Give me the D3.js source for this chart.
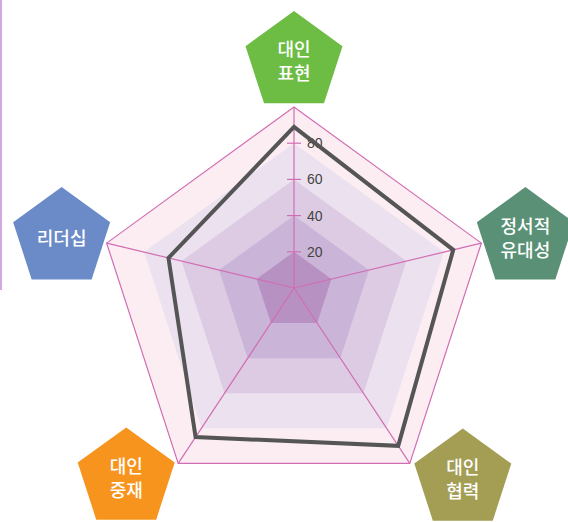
<!DOCTYPE html>
<html>
<head>
<meta charset="utf-8">
<script src="https://d3js.org/d3.v7.min.js"></script>
<style>
  html, body { margin: 0; padding: 0; background: #fff; }
  svg { display: block; }
</style>
</head>
<body>
<svg id="chart" width="568" height="522"></svg>
<script>
(function() {

  // data
  var axes = [["대인", "표현"], ["정서적", "유대성"], ["대인", "협력"], ["대인", "중재"], ["리더십"]];
  var scores = [89, 85, 90, 85, 67];
  var levels = [100, 80, 60, 40, 20];
  var ticks = [20, 40, 60, 80];
  var axisColors = ["#6dbd45", "#5a9176", "#a49e55", "#f7941e", "#6b8bc8"];

  var levelColors = {100 : "#fcedf3", 80 : "#ece2ef", 60 : "#ddcae3", 40 : "#cab5d8", 20 : "#b891c3"};
  // label offsets from the outer vertex (layout only)
  var labelOffsets = [[0, -45], [44, -5], [53, 16], [-52, 15], [-45, -5]];

  var origin = {x : 294, y : 288};     // where spokes meet (value 0)
  var outer = {x : 294, y : 304, r : 197};  // outer pentagon
  var PINK = "#d16db3";

  var svg = d3.select("#chart");

  var angle = d3.scaleLinear().domain([0, axes.length]).range([0, 2 * Math.PI]);
  var frac = d3.scaleLinear().domain([0, 100]).range([0, 1]);

  function vertex(i) {
    var a = angle(i);
    return [outer.x + outer.r * Math.sin(a), outer.y - outer.r * Math.cos(a)];
  }

  function point(i, v) {
    var p = vertex(i);
    var t = frac(v);
    return [origin.x + t * (p[0] - origin.x), origin.y + t * (p[1] - origin.y)];
  }

  var line = d3.line().curve(d3.curveLinearClosed);

  // stray border on the left edge
  svg.append("line")
    .attr("x1", 1).attr("x2", 1)
    .attr("y1", 0).attr("y2", 290)
    .attr("stroke", "#c58bd6")
    .attr("stroke-width", 1.5);

  // level bands
  svg.append("g").selectAll("path.level")
    .data(levels)
    .enter().append("path")
    .attr("class", "level")
    .attr("d", lv => line(axes.map((a, i) => point(i, lv))))
    .attr("fill", lv => levelColors[lv])
    .attr("stroke", "none");

  // outer border
  svg.append("path")
    .attr("d", line(axes.map((a, i) => point(i, 100))))
    .attr("fill", "none")
    .attr("stroke", PINK)
    .attr("stroke-width", 1.2);

  // spokes
  svg.append("g").selectAll("line.spoke")
    .data(axes)
    .enter().append("line")
    .attr("class", "spoke")
    .attr("x1", origin.x).attr("y1", origin.y)
    .attr("x2", (d, i) => point(i, 100)[0])
    .attr("y2", (d, i) => point(i, 100)[1])
    .attr("stroke", PINK)
    .attr("stroke-width", 1.2);

  // ticks on the first axis
  var tickG = svg.append("g").selectAll("g.tick")
    .data(ticks)
    .enter().append("g")
    .attr("class", "tick")
    .attr("transform", d => "translate(" + point(0, d)[0] + "," + point(0, d)[1] + ")");

  tickG.append("line")
    .attr("x1", -7).attr("x2", 7)
    .attr("stroke", PINK)
    .attr("stroke-width", 1.2);

  tickG.append("text")
    .attr("x", 13)
    .attr("dy", "0.36em")
    .attr("font-family", "Liberation Sans, Arial, sans-serif")
    .attr("font-size", 14)
    .attr("fill", "#444")
    .text(d => d);

  // score polygon
  svg.append("path")
    .attr("d", line(scores.map((v, i) => point(i, v))))
    .attr("fill", "none")
    .attr("stroke", "#555")
    .attr("stroke-width", 4)
    .attr("stroke-linejoin", "miter");

  // axis labels in pentagons
  var pentR = 51;
  var pent = d3.range(5).map(k => {
    var a = angle(k);
    return [pentR * Math.sin(a), -pentR * Math.cos(a)];
  });

  var lab = svg.append("g").selectAll("g.label")
    .data(axes)
    .enter().append("g")
    .attr("class", "label")
    .attr("transform", (d, i) => {
      var v = point(i, 100);
      return "translate(" + (v[0] + labelOffsets[i][0]) + "," + (v[1] + labelOffsets[i][1]) + ")";
    });

  lab.append("path")
    .attr("d", line(pent))
    .attr("fill", (d, i) => axisColors[i]);

  lab.each(function(d) {
    var g = d3.select(this);
    var lh = 24;
    d.forEach((s, k) => {
      g.append("text")
        .attr("text-anchor", "middle")
        .attr("y", (k - (d.length - 1) / 2) * lh)
        .attr("dy", "0.36em")
        .attr("font-family", "Noto Sans CJK KR, sans-serif")
        .attr("font-size", 18)
        .attr("font-weight", 500)
        .attr("fill", "#fff")
        .text(s);
    });
  });

})();
</script>
</body>
</html>
